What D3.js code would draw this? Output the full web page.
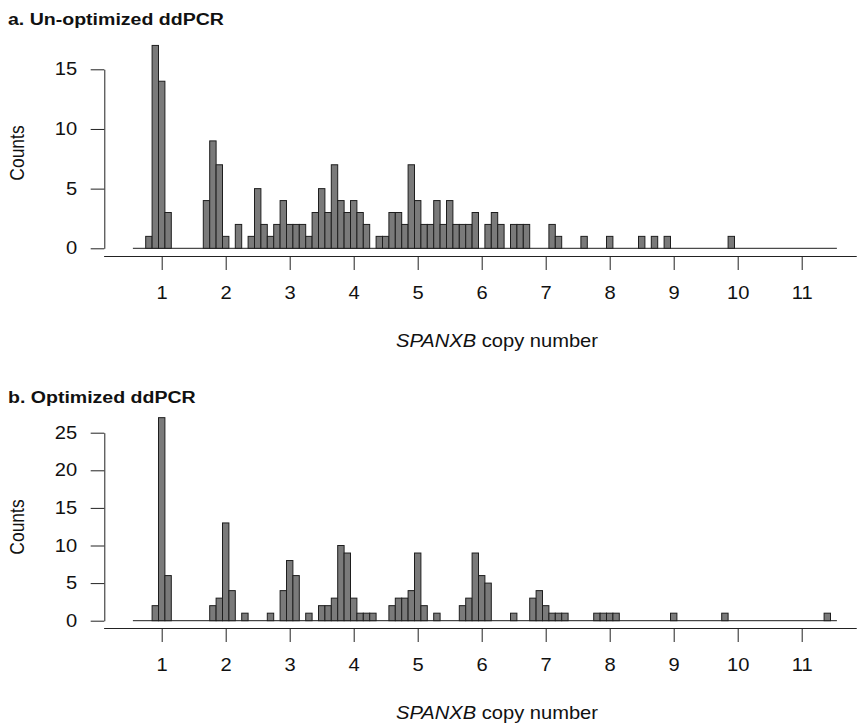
<!DOCTYPE html>
<html>
<head>
<meta charset="utf-8">
<script src="https://cdn.jsdelivr.net/npm/d3@7"></script>
<style>
  body { margin: 0; background: #fff; }
  svg text { font-family: "Liberation Sans", Arial, Helvetica, sans-serif; fill: #111; }
  .axis path, .axis line { stroke: #222; stroke-width: 1; }
</style>
</head>
<body>
<div id="viz"></div>
<script>
// histogram bins are 0.1 wide, keyed by bin centre
var binWidth = 0.1;
var histRange = [0.55, 11.55];
var axisExtent = [0.1, 11.86];

// a. Un-optimized ddPCR
var unoptCenters = [0.8, 0.9, 1.0, 1.1, 1.7, 1.8, 1.9, 2.0, 2.2, 2.4, 2.5, 2.6, 2.7, 2.8, 2.9,
  3.0, 3.1, 3.2, 3.3, 3.4, 3.5, 3.6, 3.7, 3.8, 3.9, 4.0, 4.1, 4.2, 4.4, 4.5, 4.6, 4.7, 4.8, 4.9,
  5.0, 5.1, 5.2, 5.3, 5.4, 5.5, 5.6, 5.7, 5.8, 5.9, 6.1, 6.2, 6.3, 6.5, 6.6, 6.7,
  7.1, 7.2, 7.6, 8.0, 8.5, 8.7, 8.9, 9.9];
var unoptCounts = [1, 17, 14, 3, 4, 9, 7, 1, 2, 1, 5, 2, 1, 2, 4,
  2, 2, 2, 1, 3, 5, 3, 7, 4, 3, 4, 3, 2, 1, 1, 3, 3, 2, 7,
  4, 2, 2, 4, 2, 4, 2, 2, 2, 3, 2, 3, 2, 2, 2, 2,
  2, 1, 1, 1, 1, 1, 1, 1];

// b. Optimized ddPCR
var optCenters = [0.9, 1.0, 1.1, 1.8, 1.9, 2.0, 2.1, 2.3, 2.7, 2.9, 3.0, 3.1, 3.3,
  3.5, 3.6, 3.7, 3.8, 3.9, 4.0, 4.1, 4.2, 4.3, 4.6, 4.7, 4.8, 4.9, 5.0, 5.1, 5.3,
  5.7, 5.8, 5.9, 6.0, 6.1, 6.5, 6.8, 6.9, 7.0, 7.1, 7.2, 7.3, 7.8, 7.9, 8.0, 8.1,
  9.0, 9.8, 11.4];
var optCounts = [2, 27, 6, 2, 3, 13, 4, 1, 1, 4, 8, 6, 1,
  2, 2, 3, 10, 9, 3, 1, 1, 1, 2, 3, 3, 4, 9, 2, 1,
  2, 3, 9, 6, 5, 1, 3, 4, 2, 1, 1, 1, 1, 1, 1, 1,
  1, 1, 1];

var xTicks = [1, 2, 3, 4, 5, 6, 7, 8, 9, 10, 11];
var yTicksA = [0, 5, 10, 15];
var yTicksB = [0, 5, 10, 15, 20, 25];

var w = 857, h = 725,
    fontSize = 17.5,
    stretchX = 1.15,
    bar_fill = "#7a7a7a",
    bar_stroke = "#1e1e1e";

var svg = d3.select("#viz")
    .append("svg")
    .attr("width", w)
    .attr("height", h);

var x = d3.scaleLinear().domain([1, 11]).range([161.7, 801.7]);

// the source figure is a bit wider than tall, so text gets a horizontal stretch
function stretch(sel, k) {
  sel.each(function() {
    var t = d3.select(this);
    var tx = +t.attr("x") || 0, ty = +t.attr("y") || 0;
    t.attr("x", 0).attr("y", 0)
      .attr("transform", "translate(" + tx + "," + ty + ") scale(" + k + ",1)");
  });
}

function drawPanel(p) {
  var g = svg.append("g").attr("class", "panel");
  var y = d3.scaleLinear().domain([0, d3.max(p.yTicks)]).range([p.base, p.top]);

  // title
  g.append("text")
      .attr("x", 8)
      .attr("y", p.titleY)
      .style("font-weight", "bold")
      .style("font-size", "17px")
      .text(p.title)
      .call(stretch, stretchX);

  // baseline of the histogram (empty bins)
  g.append("line")
      .attr("x1", x(histRange[0]))
      .attr("x2", x(histRange[1]))
      .attr("y1", y(0))
      .attr("y2", y(0))
      .attr("stroke", bar_stroke)
      .attr("stroke-width", 1);

  var data = p.centers.map(function(c, i) { return { c: c, n: p.counts[i] }; });

  g.selectAll("rect.bar").data(data)
    .enter().append("rect")
      .attr("class", "bar")
      .attr("x", function(d) { return x(d.c - binWidth / 2); })
      .attr("width", function(d) { return x(d.c + binWidth / 2) - x(d.c - binWidth / 2); })
      .attr("y", function(d) { return y(d.n); })
      .attr("height", function(d) { return y(0) - y(d.n); })
      .attr("fill", bar_fill)
      .attr("stroke", bar_stroke)
      .attr("stroke-width", 1);

  // y axis
  var yAxis = d3.axisLeft(y).tickValues(p.yTicks).tickSize(13.6).tickPadding(13.6).tickSizeOuter(0);
  var ya = g.append("g")
      .attr("class", "axis")
      .attr("transform", "translate(104.3,0)")
      .call(yAxis);
  ya.selectAll("text").style("font-size", fontSize + "px").style("fill", "#111").call(stretch, stretchX);

  // x axis
  var xAxis = d3.axisBottom(x).tickValues(xTicks).tickSize(13.5).tickPadding(17).tickSizeOuter(0);
  var xa = g.append("g")
      .attr("class", "axis")
      .attr("transform", "translate(0," + p.axisY + ")")
      .call(xAxis);
  xa.select(".domain").remove();
  xa.append("line")
      .attr("x1", x(axisExtent[0]))
      .attr("x2", x(axisExtent[1]))
      .attr("stroke", "#222");
  xa.selectAll("text").style("font-size", fontSize + "px").style("fill", "#111").call(stretch, stretchX);

  // y label
  g.append("text")
      .attr("transform", "translate(24," + p.countsY + ") rotate(-90) scale(1," + stretchX + ")")
      .style("text-anchor", "middle")
      .style("font-size", fontSize + "px")
      .text("Counts");

  // x label
  var xl = g.append("text")
      .attr("transform", "translate(497," + (p.axisY + 90) + ") scale(" + stretchX + ",1)")
      .style("text-anchor", "middle")
      .style("font-size", fontSize + "px");
  xl.append("tspan").style("font-style", "italic").text("SPANXB");
  xl.append("tspan").text(" copy number");
}

drawPanel({
  title: "a. Un-optimized ddPCR",
  titleY: 25,
  centers: unoptCenters,
  counts: unoptCounts,
  yTicks: yTicksA,
  base: 248.3,
  top: 69.3,
  axisY: 256.5,
  countsY: 153
});

drawPanel({
  title: "b. Optimized ddPCR",
  titleY: 403,
  centers: optCenters,
  counts: optCounts,
  yTicks: yTicksB,
  base: 620.7,
  top: 432.7,
  axisY: 628.5,
  countsY: 527
});
</script>
</body>
</html>
